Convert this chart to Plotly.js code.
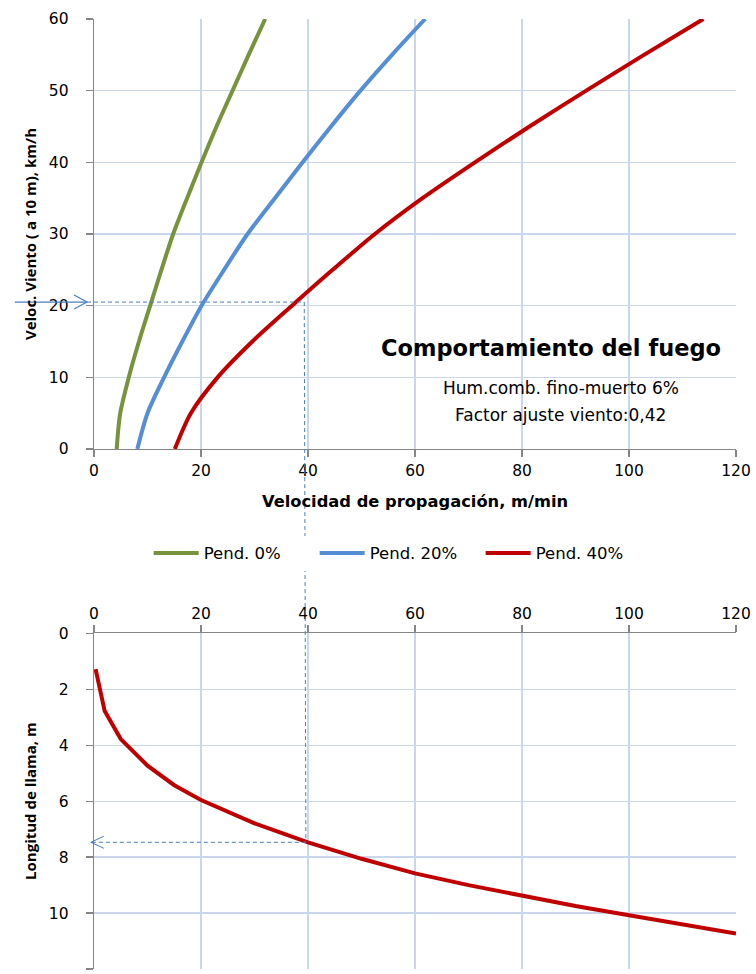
<!DOCTYPE html>
<html>
<head>
<meta charset="utf-8">
<script src="https://cdn.plot.ly/plotly-3.0.1.min.js"></script>
<style>html,body{margin:0;padding:0;background:#fff;}#chart{width:756px;height:974px;}</style>
</head>
<body>
<div id="chart"></div>
<script>
// ---- data ----
const windSpeed = [0, 5, 10, 15, 20, 25, 30, 35, 40, 45, 50, 55, 60];            // km/h
const rosSlope0 = [4.24, 4.9, 6.5, 8.4, 10.5, 12.6, 14.8, 17.4, 20.1, 22.9, 25.9, 28.9, 32.0];   // m/min
const rosSlope20 = [8.1, 10.0, 13.1, 16.5, 20.1, 24.3, 28.7, 33.8, 39.0, 44.3, 49.8, 55.7, 61.9];
const rosSlope40 = [15.1, 18.1, 23.1, 29.6, 37.0, 44.6, 52.5, 61.4, 71.2, 81.4, 92.0, 102.8, 113.9];
const seriesNames = ['Pend. 0%', 'Pend. 20%', 'Pend. 40%'];

const flameRos = [0.3, 2, 5, 10, 15, 20, 30, 40, 50, 60, 70, 80, 90, 100, 110, 120];
const flameLen = [1.28, 2.78, 3.78, 4.73, 5.43, 5.96, 6.79, 7.47, 8.06, 8.58, 9.0, 9.39, 9.75, 10.08, 10.4, 10.73];

const xTicks = [0, 20, 40, 60, 80, 100, 120];
const yTopTicks = [0, 10, 20, 30, 40, 50, 60];
const yBotTicks = [0, 2, 4, 6, 8, 10, 12];

// example reading
const exampleWind = 20.5;
const exampleRos = 39.3;
const exampleFlame = 7.47;

// ---- styles ----
const colors = ['#77933C', '#558ED5', '#C00000'];
const gridCol = '#CAD6EC';
const axisCol = '#868686';
const dashCol = '#4A7EBB';
const FONT = 'DejaVu Sans, sans-serif';
const VFONT = 'Open Sans, sans-serif';

const topDomain = [0.539, 0.9805];
const botDomain = [0.0051, 0.3498];
const xRange = [0, 120];
const yTopRange = [0, 60];
const yBotRange = [12, 0];

function xp(v) { return (v - xRange[0]) / (xRange[1] - xRange[0]); }
function ypTop(v) { return topDomain[0] + (v - yTopRange[0]) / (yTopRange[1] - yTopRange[0]) * (topDomain[1] - topDomain[0]); }
function ypBot(v) { return botDomain[0] + (v - yBotRange[0]) / (yBotRange[1] - yBotRange[0]) * (botDomain[1] - botDomain[0]); }

const rosSeries = [rosSlope0, rosSlope20, rosSlope40];
const traces = rosSeries.map((r, i) => ({
  x: r, y: windSpeed, xaxis: 'x', yaxis: 'y', type: 'scatter', mode: 'lines',
  name: seriesNames[i], line: {color: colors[i], width: 4, shape: 'spline', smoothing: 0.8},
  hoverinfo: 'x+y'
}));
traces.push({
  x: flameRos, y: flameLen, xaxis: 'x2', yaxis: 'y2', type: 'scatter', mode: 'lines',
  showlegend: false, line: {color: colors[2], width: 4}
});

const tickFont = {family: FONT, size: 15.5, color: '#000'};
const xTitleFont = {family: FONT, size: 16.3, color: '#000', weight: 'bold'};
const yTitleFont = {family: VFONT, size: 15, color: '#000', weight: 'bold'};

const axisBase = {
  showline: true, linecolor: axisCol, linewidth: 1.3,
  showgrid: true, gridcolor: gridCol, gridwidth: 1.3,
  zeroline: false, ticks: 'outside', ticklen: 7, tickcolor: axisCol, tickwidth: 1.3,
  tickfont: tickFont, fixedrange: true
};

const dashLine = {color: dashCol, width: 1, dash: '4px,3px'};
const shapes = [
  {type: 'line', xref: 'paper', yref: 'paper', x0: xp(-14.8), x1: xp(-1.3), y0: ypTop(exampleWind), y1: ypTop(exampleWind), line: {color: dashCol, width: 1.2}},
  {type: 'path', xref: 'paper', yref: 'paper', xsizemode: 'pixel', ysizemode: 'pixel',
   xanchor: xp(-1.3), yanchor: ypTop(exampleWind), path: 'M -13 7 L 0 0 L -13 -7', line: {color: dashCol, width: 1.2}},
  {type: 'line', xref: 'paper', yref: 'paper', x0: xp(-1.3), x1: xp(exampleRos), y0: ypTop(exampleWind), y1: ypTop(exampleWind), line: dashLine},
  {type: 'line', xref: 'paper', yref: 'paper', x0: xp(exampleRos), x1: xp(exampleRos + 0.3), y0: ypTop(exampleWind), y1: ypBot(exampleFlame), line: dashLine},
  {type: 'line', xref: 'paper', yref: 'paper', x0: xp(exampleRos + 0.3), x1: xp(-0.6), y0: ypBot(exampleFlame), y1: ypBot(exampleFlame), line: dashLine},
  {type: 'path', xref: 'paper', yref: 'paper', xsizemode: 'pixel', ysizemode: 'pixel',
   xanchor: xp(-0.6), yanchor: ypBot(exampleFlame), path: 'M 13 6 L 0 0 L 13 -6', line: {color: dashCol, width: 1}}
];

const annotations = [
  {xref: 'x', yref: 'y', x: 85.4, y: 14.1, showarrow: false, text: '<b>Comportamiento del fuego</b>',
   font: {family: FONT, size: 22.5, color: '#000'}},
  {xref: 'x', yref: 'y', x: 87.2, y: 8.5, showarrow: false, text: 'Hum.comb. fino-muerto 6%',
   font: {family: FONT, size: 17, color: '#000'}},
  {xref: 'x', yref: 'y', x: 87.2, y: 4.75, showarrow: false, text: 'Factor ajuste viento:0,42',
   font: {family: FONT, size: 17, color: '#000'}}
];

const layout = {
  width: 756, height: 974,
  margin: {l: 94, r: 20, t: 0, b: 0},
  paper_bgcolor: '#fff', plot_bgcolor: '#fff',
  font: {family: FONT, color: '#000'},
  showlegend: true,
  legend: {orientation: 'h', x: 0.473, xanchor: 'center', y: 0.432, yanchor: 'middle',
           font: {family: FONT, size: 16.5, color: '#000'}, traceorder: 'normal',
           itemwidth: 45, entrywidth: 106, entrywidthmode: 'pixels'},
  xaxis: Object.assign({}, axisBase, {
    domain: [0, 1], anchor: 'y', range: xRange, tickvals: xTicks, ticktext: xTicks.map(String),
    title: {text: 'Velocidad de propagación, m/min', font: xTitleFont, standoff: 16}
  }),
  yaxis: Object.assign({}, axisBase, {
    domain: topDomain, anchor: 'x', range: yTopRange, tickvals: yTopTicks, ticktext: yTopTicks.map(String),
    ticklabelstandoff: 14,
    title: {text: 'Veloc. Viento ( a 10 m), km/h', font: yTitleFont, standoff: 8}
  }),
  xaxis2: Object.assign({}, axisBase, {
    domain: [0, 1], anchor: 'y2', side: 'top', range: xRange, tickvals: xTicks, ticktext: xTicks.map(String)
  }),
  yaxis2: Object.assign({}, axisBase, {
    domain: botDomain, anchor: 'x2', range: yBotRange, tickvals: yBotTicks, ticktext: yBotTicks.map(String),
    ticklabelstandoff: 14,
    title: {text: 'Longitud de llama, m', font: yTitleFont, standoff: 8}
  }),
  shapes: shapes,
  annotations: annotations
};

Plotly.newPlot('chart', traces, layout, {displayModeBar: false, staticPlot: true});
</script>
</body>
</html>
